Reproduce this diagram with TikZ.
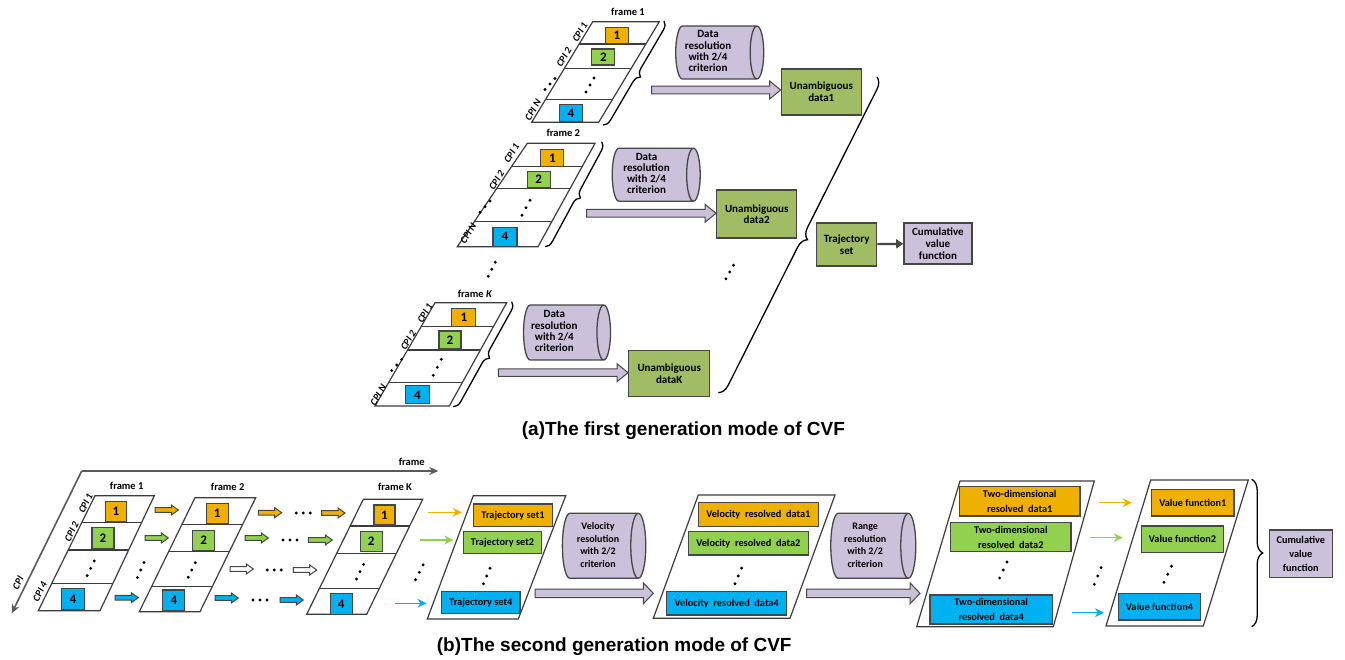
\documentclass[tikz,border=0pt]{standalone}
\usepackage{fontspec}
\setmainfont{Carlito}
\newfontfamily\capfont{Liberation Sans}
\usetikzlibrary{shapes.geometric,decorations.pathreplacing,arrows.meta,calc}
\definecolor{lineg}{RGB}{60,60,60}
\definecolor{boxb}{RGB}{70,70,70}
\definecolor{orng}{RGB}{240,176,0}
\definecolor{grn}{RGB}{146,208,80}
\definecolor{blu}{RGB}{0,176,240}
\definecolor{olv}{RGB}{160,188,100}
\definecolor{lav}{RGB}{204,193,218}
\definecolor{axisg}{RGB}{90,90,90}
\newcommand{\pgram}[7]{%
 \coordinate (#1-tl) at (#2,#4);
 \coordinate (#1-tr) at (#3,#4);
 \coordinate (#1-bl) at (#5,#7);
 \coordinate (#1-br) at (#6,#7);
 \draw[pg] (#1-tl) -- (#1-tr) -- (#1-br) -- (#1-bl) -- cycle;}
\newcommand{\divl}[2]{\draw[pg] ($(#1-tl)!#2!(#1-bl)$) -- ($(#1-tr)!#2!(#1-br)$);}
\newcommand{\barrow}[6]{%
 \draw[draw=boxb, line width=1pt, fill=#1] let \p1=#2, \p2=#3 in
  (\x1,\y1+#4) -- (\x2-#6,\y1+#4) -- (\x2-#6,\y1+#5) -- (\x2,\y1) -- (\x2-#6,\y1-#5) -- (\x2-#6,\y1-#4) -- (\x1,\y1-#4) -- cycle;}
\newcommand{\vdt}[4]{\fill (#1+#3,#2-#4) circle (1.6pt) (#1,#2) circle (1.6pt) (#1-#3,#2+#4) circle (1.6pt);}
\newcommand{\hdt}[2]{\fill (#1-7,#2) circle (1.6pt) (#1,#2) circle (1.6pt) (#1+7,#2) circle (1.6pt);}
\newcommand{\cyltext}[2]{\hspace*{#1}\begin{tabular}{@{}c@{}}#2\end{tabular}}
\tikzset{
 pg/.style={draw=lineg, line width=1.2pt},
 nb/.style={draw=boxb, line width=1.3pt, inner sep=0pt, font=\bfseries\fontsize{13}{13}\selectfont},
 tb/.style={draw=boxb, line width=1.4pt, inner sep=0pt, align=center, font=\bfseries\fontsize{11}{11.8}\selectfont},
 bb/.style={draw=boxb, line width=1.4pt, inner sep=0pt, align=center, font=\bfseries\fontsize{10.3}{15}\selectfont},
 cyl/.style={cylinder, draw=boxb, line width=1.3pt, fill=lav, aspect=0.3, inner sep=0pt},
 lbl/.style={font=\bfseries\fontsize{10.5}{10.5}\selectfont, inner sep=0pt},
 cpil/.style={font=\bfseries\itshape\fontsize{10}{10}\selectfont, inner sep=0pt},
 brc/.style={decorate, decoration={brace, amplitude=#1}, draw=black, line width=1.3pt},
 thin/.style={line width=1.5pt, -{Stealth[length=9pt,width=9pt]}},
 capt/.style={font=\capfont\bfseries\fontsize{19}{20}\selectfont, anchor=west, inner sep=0pt},
}
\begin{document}
\begin{tikzpicture}[x=1pt,y=-1pt]
\useasboundingbox (0,0) rectangle (1345,660);
% ================= TOP PART =================
% frame 1
\pgram{f1}{592.7}{659.3}{21.7}{531.7}{598.7}{122.3}
\divl{f1}{0.222}\divl{f1}{0.463}\divl{f1}{0.771}
\node[nb, fill=orng, minimum width=23pt, minimum height=16pt] (f1n1) at (617,35.5) {1};
\node[nb, fill=grn, minimum width=23pt, minimum height=16pt] (f1n2) at (603.3,57) {2};
\node[nb, fill=blu, minimum width=23pt, minimum height=17pt] (f1n4) at (570.8,113) {4};
\vdt{590}{85}{4}{7}
\node[lbl] (f1t) at (628,12) {frame 1};
\node[cpil, rotate=59] (f1c1) at (580,32) {CPI 1};
\node[cpil, rotate=59] (f1c2) at (564,57) {CPI 2};
\node[cpil, rotate=59] (f1cn) at (533,110) {CPI N};
\vdt{550}{84}{5}{5.5}
\coordinate (f1b1) at (664,21); \coordinate (f1b2) at (603,125);
\draw[brc=8] (f1b1) -- (f1b2);
\node[cyl, minimum height=88pt, minimum width=53pt, font=\bfseries\fontsize{11}{11.3}\selectfont] (cy1) at (716,52.5) {\cyltext{-16pt}{Data\\resolution\\with 2/4\\criterion}};
\node[tb, fill=olv, minimum width=80pt, minimum height=46pt] (u1) at (821.3,92) {Unambiguous\\data1};
\coordinate (a1s) at (651.7,90);
\barrow{lav}{(a1s)}{(u1.west |- a1s)}{3.8pt}{9pt}{11pt}
% frame 2
\pgram{f2}{527.3}{595}{143.3}{457.3}{538}{246.7}
\divl{f2}{0.226}\divl{f2}{0.435}\divl{f2}{0.758}
\node[nb, fill=orng, minimum width=23pt, minimum height=17pt] (f2n1) at (552.3,157.8) {1};
\node[nb, fill=grn, minimum width=23pt, minimum height=16pt] (f2n2) at (538.7,179.7) {2};
\node[nb, fill=blu, minimum width=24pt, minimum height=19pt] (f2n4) at (505,236.7) {4};
\vdt{526}{207.7}{4}{7.5}
\node[lbl] (f2t) at (563.3,133.3) {frame 2};
\node[cpil, rotate=59] (f2c1) at (511.7,153.3) {CPI 1};
\node[cpil, rotate=59] (f2c2) at (496.7,180) {CPI 2};
\node[cpil, rotate=59] (f2cn) at (468.3,233.3) {CPI N};
\vdt{485}{206.7}{5}{5.6}
\coordinate (f2b1) at (601.7,141.7); \coordinate (f2b2) at (545,246.7);
\draw[brc=8] (f2b1) -- (f2b2);
\node[cyl, minimum height=88pt, minimum width=53pt, font=\bfseries\fontsize{11}{11.3}\selectfont] (cy2) at (652.5,174.7) {\cyltext{-12pt}{Data\\resolution\\with 2/4\\criterion}};
\node[tb, fill=olv, minimum width=80pt, minimum height=48pt] (u2) at (756.7,214.2) {Unambiguous\\data2};
\coordinate (a2s) at (586.7,213.3);
\barrow{lav}{(a2s)}{(u2.west |- a2s)}{3.8pt}{9pt}{11pt}
% frame K
\pgram{fk}{435}{506.7}{302.7}{375}{449.3}{406}
\divl{fk}{0.232}\divl{fk}{0.458}\divl{fk}{0.775}
\node[nb, fill=orng, minimum width=24pt, minimum height=18pt] (fkn1) at (463.8,317.5) {1};
\node[nb, fill=grn, minimum width=22pt, minimum height=18pt] (fkn2) at (450,340) {2};
\node[nb, fill=blu, minimum width=23.5pt, minimum height=18pt] (fkn4) at (417.5,394.8) {4};
\vdt{437.3}{367.3}{4}{8}
\node[lbl] (fkt) at (475,294) {frame \textit{K}};
\node[cpil, rotate=59] (fkc1) at (425,313.3) {CPI 1};
\node[cpil, rotate=59] (fkc2) at (408.3,340) {CPI 2};
\node[cpil, rotate=59] (fkcn) at (378.3,395) {CPI N};
\vdt{396.7}{365}{5}{5.6}
\coordinate (fkb1) at (511.7,301.7); \coordinate (fkb2) at (453.3,406.7);
\draw[brc=8] (fkb1) -- (fkb2);
\node[cyl, minimum height=87pt, minimum width=55pt, font=\bfseries\fontsize{11}{11.3}\selectfont] (cyk) at (563.3,332.5) {\cyltext{-18pt}{Data\\resolution\\with 2/4\\criterion}};
\node[tb, fill=olv, minimum width=81pt, minimum height=46pt] (uk) at (669.2,373.7) {Unambiguous\\dataK};
\coordinate (aks) at (498.3,372.7);
\barrow{lav}{(aks)}{(uk.west |- aks)}{3.8pt}{9pt}{11pt}
% dots
\vdt{491.7}{269.3}{3.5}{7}
\vdt{729.7}{272}{3.8}{6.8}
% big brace, trajectory set
\coordinate (bb1) at (877,77); \coordinate (bb2) at (718.3,392.7);
\draw[brc=11] (bb1) -- (bb2);
\node[tb, fill=olv, minimum width=60pt, minimum height=43pt] (ts) at (846.7,244.5) {Trajectory\\set};
\node[tb, fill=lav, minimum width=68pt, minimum height=41pt] (cv) at (937.9,243.4) {Cumulative\\value\\function};
\draw[line width=2.2pt, draw=boxb, -{Triangle[length=7pt,width=9pt]}] (ts) -- (cv);
\node[capt] (capa) at (521.7,431) {(a)The first generation mode of CVF};
% ================= BOTTOM PART =================
\coordinate (ax0) at (81.7,471);
\coordinate (axf) at (438.3,471);
\coordinate (axc) at (11.7,613.3);
\draw[axisg, line width=1.6pt, -{Stealth[length=9pt,width=8pt]}] (ax0) -- (axf);
\draw[axisg, line width=1.6pt, -{Stealth[length=9pt,width=8pt]}] (ax0) -- (axc);
\node[lbl] (axft) at (411.7,461.7) {frame};
\node[cpil, rotate=64] (axct) at (18,583) {CPI};
% frame b1
\pgram{g1}{95}{154.3}{495.7}{38.3}{100}{610.7}
\divl{g1}{0.235}\divl{g1}{0.472}\divl{g1}{0.765}
\node[nb, fill=orng, minimum width=21pt, minimum height=20pt] (g1n1) at (116,511.7) {1};
\node[nb, fill=grn, minimum width=22pt, minimum height=21pt] (g1n2) at (103,537.8) {2};
\node[nb, fill=blu, minimum width=23pt, minimum height=21pt] (g1n4) at (73,598.8) {4};
\vdt{90.7}{568.3}{3.5}{7.3}
\node[lbl] (g1t) at (126.7,485.7) {frame 1};
\node[cpil, rotate=64] (g1c1) at (85.7,503.3) {CPI 1};
\node[cpil, rotate=64] (g1c2) at (71.7,531.7) {CPI 2};
\node[cpil, rotate=64] (g1c4) at (40,591.7) {CPI 4};
% frame b2
\pgram{g2}{195}{255.7}{497.7}{139.3}{200}{611.7}
\divl{g2}{0.233}\divl{g2}{0.474}\divl{g2}{0.781}
\node[nb, fill=orng, minimum width=22pt, minimum height=20pt] (g2n1) at (217.2,513.7) {1};
\node[nb, fill=grn, minimum width=22pt, minimum height=20pt] (g2n2) at (203.7,540.3) {2};
\node[nb, fill=blu, minimum width=22pt, minimum height=21pt] (g2n4) at (173.8,600.5) {4};
\vdt{191.7}{570}{3.5}{7.3}
\node[lbl] (g2t) at (227.7,487.3) {frame 2};
% frame bK
\pgram{gk}{363.3}{422.7}{499.3}{306.7}{366.7}{614.3}
\divl{gk}{0.232}\divl{gk}{0.47}\divl{gk}{0.774}
\node[nb, fill=orng, minimum width=21pt, minimum height=20pt] (gkn1) at (384.5,515) {1};
\node[nb, fill=grn, minimum width=22pt, minimum height=20pt] (gkn2) at (371.2,541.7) {2};
\node[nb, fill=blu, minimum width=22pt, minimum height=21pt] (gkn4) at (341.2,603.8) {4};
\vdt{360}{571.7}{3.5}{7.3}
\node[lbl] (gkt) at (395,487.3) {frame K};
\vdt{140.7}{570}{3.3}{7.5}
\vdt{419.3}{572.3}{3.8}{7.5}
% small block arrows
\barrow{orng}{(155,510)}{(178.3,510)}{2.4pt}{5pt}{7pt}
\barrow{orng}{(258.3,512.7)}{(281.7,512.7)}{2.4pt}{5pt}{7pt}
\barrow{orng}{(321.7,513)}{(345,513)}{2.4pt}{5pt}{7pt}
\hdt{303.3}{513}
\barrow{grn}{(145,538)}{(168.3,538)}{2.4pt}{5pt}{7pt}
\barrow{grn}{(245,538)}{(268.3,538)}{2.4pt}{5pt}{7pt}
\barrow{grn}{(308.3,540)}{(332.3,540)}{2.4pt}{5pt}{7pt}
\hdt{290}{540}
\barrow{white}{(230,569)}{(253.3,569)}{2.4pt}{5pt}{7pt}
\barrow{white}{(293.3,570)}{(316.7,570)}{2.4pt}{5pt}{7pt}
\hdt{274.3}{570}
\barrow{blu}{(115,597.7)}{(138.3,597.7)}{2.4pt}{5pt}{7pt}
\barrow{blu}{(215,598)}{(238.3,598)}{2.4pt}{5pt}{7pt}
\barrow{blu}{(280,600)}{(303.3,600)}{2.4pt}{5pt}{7pt}
\hdt{260}{600}
% trajectory sets
\coordinate (o1s) at (428.3,512.3); \coordinate (o1e) at (461.7,512.3);
\coordinate (g1s) at (420,540); \coordinate (g1e) at (453.3,540);
\coordinate (b1s) at (395,603.3); \coordinate (b1e) at (426.5,603.3);
\draw[thin, orng] (o1s) -- (o1e);
\draw[thin, grn] (g1s) -- (g1e);
\draw[thin, blu] (b1s) -- (b1e);
\pgram{tp}{473.3}{565.7}{495.7}{427.3}{518.3}{619}
\node[bb, fill=orng, minimum width=79pt, minimum height=22.7pt] (ts1) at (513,515.3) {Trajectory set1};
\node[bb, fill=grn, minimum width=78.4pt, minimum height=21.6pt] (ts2) at (502.5,542.5) {Trajectory set2};
\node[bb, fill=blu, minimum width=78.3pt, minimum height=21.6pt] (ts4) at (480.8,602.5) {Trajectory set4};
\vdt{486.7}{576}{3.3}{7.8}
\node[cyl, minimum height=83.4pt, minimum width=65pt, font=\bfseries\fontsize{10}{12.5}\selectfont] (cyv) at (600,545.8) {\cyltext{-4pt}{Velocity\\resolution\\with 2/2\\criterion}};
\coordinate (v1s) at (535,593.3);
\barrow{lav}{(v1s)}{(653.3,593.3)}{4.2pt}{10.5pt}{10pt}
% velocity resolved
\pgram{vp}{698.3}{835}{495}{653.3}{790}{618.3}
\node[bb, fill=orng, minimum width=120pt, minimum height=24pt] (vd1) at (758.3,514.7) {Velocity~ resolved~ data1};
\node[bb, fill=grn, minimum width=120pt, minimum height=23.3pt] (vd2) at (748.3,543.3) {Velocity~ resolved~ data2};
\node[bb, fill=blu, minimum width=120pt, minimum height=23.3pt] (vd4) at (726.7,603.3) {Velocity~ resolved~ data4};
\vdt{738.3}{576}{3.3}{7.8}
\node[cyl, minimum height=85pt, minimum width=65pt, font=\bfseries\fontsize{10}{12.5}\selectfont] (cyr) at (869.2,545.8) {\cyltext{-8pt}{Range\\resolution\\with 2/2\\criterion}};
\coordinate (r1s) at (806.7,593.3);
\barrow{lav}{(r1s)}{(920,593.3)}{4.2pt}{10.5pt}{10pt}
% two-dimensional
\pgram{dp}{960}{1094.3}{481}{916.7}{1053.3}{626.7}
\node[bb, fill=orng, minimum width=120.7pt, minimum height=29.3pt] (td1) at (1019.7,501.3) {Two-dimensional\\resolved~ data1};
\node[bb, fill=grn, minimum width=120.3pt, minimum height=29pt] (td2) at (1010.8,537.2) {Two-dimensional\\resolved~ data2};
\node[bb, fill=blu, minimum width=122.3pt, minimum height=29pt] (td4) at (991.2,609.5) {Two-dimensional\\resolved~ data4};
\vdt{1003.3}{570}{3.7}{8}
\coordinate (o2s) at (1099,502.7); \coordinate (o2e) at (1131.7,502.7);
\coordinate (g2s) at (1090,537.7); \coordinate (g2e) at (1122.7,537.7);
\coordinate (b2s) at (1071.7,612.7); \coordinate (b2e) at (1104,612.7);
\draw[thin, orng] (o2s) -- (o2e);
\draw[thin, grn] (g2s) -- (g2e);
\draw[thin, blu] (b2s) -- (b2e);
\vdt{1097.7}{576}{3.4}{8.3}
% value functions
\pgram{vf}{1150.7}{1248.3}{480}{1106}{1203.3}{626}
\node[bb, fill=orng, minimum width=82.3pt, minimum height=26.7pt] (vf1) at (1192.8,502.7) {Value function1};
\node[bb, fill=grn, minimum width=81.7pt, minimum height=26.7pt] (vf2) at (1182.5,539.3) {Value function2};
\node[bb, fill=blu, minimum width=82.3pt, minimum height=26.7pt] (vf4) at (1159.5,606.7) {Value function4};
\vdt{1167.7}{574.3}{3.8}{8}
\coordinate (vb1) at (1251.7,479.3); \coordinate (vb2) at (1251.7,626.7);
\draw[brc=11] (vb1) -- (vb2);
\node[bb, fill=lav, minimum width=63pt, minimum height=47.3pt, font=\bfseries\fontsize{10.3}{14}\selectfont] (cvb) at (1300.8,553.7) {Cumulative\\value\\function};
\node[capt] (capb) at (436.7,646.7) {(b)The second generation mode of CVF};
\end{tikzpicture}
\end{document}
